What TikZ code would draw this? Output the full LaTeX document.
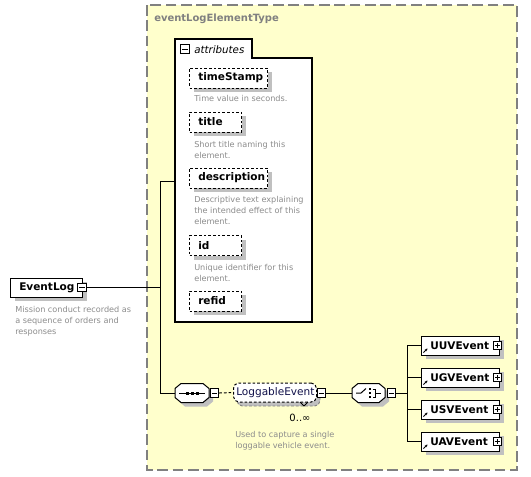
\documentclass[tikz,border=0pt]{standalone}
\usepackage{fontspec}
\setmainfont{DejaVu Sans}
\usetikzlibrary{shadows,arrows.meta}
\definecolor{bgyellow}{HTML}{FFFFCC}
\definecolor{dashgray}{HTML}{808080}
\definecolor{shadowgray}{HTML}{C0C0C0}
\definecolor{desc}{HTML}{8C8C8C}
\definecolor{navy}{HTML}{10104A}
\tikzset{
  shade4/.style={drop shadow={shadow xshift=3pt,shadow yshift=-3pt,fill=shadowgray,opacity=1}},
  attrbox/.style={draw, dash pattern=on 2pt off 1.5pt, fill=white, line width=0.75pt, minimum height=15pt, inner sep=0pt, anchor=west, shade4},
  elbox/.style={draw, fill=white, line width=0.75pt, minimum height=14.25pt, minimum width=58.5pt, inner sep=0pt, anchor=west, shade4},
  lbl/.style={font=\bfseries\fontsize{7.9}{9}\selectfont, inner sep=0pt, anchor=west},
  desctext/.style={font=\fontsize{6.1}{8.25}\selectfont, text=desc, align=left, anchor=north west, inner sep=0pt},
  minusbox/.style={draw, fill=white, line width=0.6pt, minimum size=6.5pt, inner sep=0pt,
    path picture={\draw[line width=0.6pt] ([xshift=1.3pt]path picture bounding box.west) -- ([xshift=-1.3pt]path picture bounding box.east);}},
  plusbox/.style={draw, fill=white, line width=0.6pt, minimum size=6.5pt, inner sep=0pt,
    path picture={\draw[line width=0.6pt] ([xshift=1.3pt]path picture bounding box.west) -- ([xshift=-1.3pt]path picture bounding box.east)
      ([yshift=1.3pt]path picture bounding box.south) -- ([yshift=-1.3pt]path picture bounding box.north);}},
  conn/.style={line width=0.75pt},
  octanchor/.style={minimum height=14.25pt, inner sep=0pt},
  octdraw/.style={draw, fill=white, line width=0.75pt, shade4},
  refarrow/.style={line width=0.6pt, -{Stealth[length=2pt,width=2pt]}}
}
% octagon round a centre (cx,cy) with half width #3 (px)
\newcommand\octagonpath[3]{%
  (#1-#3+6,#2-9.5) -- (#1+#3-6,#2-9.5) -- (#1+#3,#2-4.5) -- (#1+#3,#2+4.5) --
  (#1+#3-6,#2+9.5) -- (#1-#3+6,#2+9.5) -- (#1-#3,#2+4.5) -- (#1-#3,#2-4.5) -- cycle}
\begin{document}
\begin{tikzpicture}[x=0.75pt,y=-0.75pt]
\useasboundingbox (0,0) rectangle (531,476);
% outer complex type box
\draw[fill=bgyellow, draw=dashgray, line width=0.8pt, dash pattern=on 8pt off 3.5pt] (147,5) rectangle (517,470);
\node[font=\bfseries\fontsize{7.5}{9}\selectfont, text=dashgray, anchor=west, inner sep=0pt] (title) at (154,19) {eventLogElementType};

% attributes container
\draw[line width=0.8pt, fill=white] (175,322) -- (175,39) -- (252,39) -- (252,58) -- (312,58) -- (312,322) -- cycle;
\node[minusbox] (attm) at (185,49) {};
\node[font=\itshape\fontsize{7.7}{9}\selectfont, anchor=west, inner sep=0pt] (atttxt) at (194,50) {attributes};
\coordinate (attrL) at (175,181);

% attributes
\node[attrbox, minimum width=58.5pt] (ts) at (189,78) {};
\node[lbl] (tsl) at (198,78) {timeStamp};
\node[desctext] (tsd) at (194,95) {Time value in seconds.};

\node[attrbox, minimum width=39pt] (ti) at (189,122) {};
\node[lbl] (til) at (198,122) {title};
\node[desctext] (tid) at (194,141) {Short title naming this\\element.};

\node[attrbox, minimum width=58.5pt] (de) at (189,178) {};
\node[lbl] (del) at (198,178) {description};
\node[desctext] (ded) at (194,196) {Descriptive text explaining\\the intended effect of this\\element.};

\node[attrbox, minimum width=39pt] (id) at (189,245.5) {};
\node[lbl] (idl) at (198,245.5) {id};
\node[desctext] (idd) at (194,264) {Unique identifier for this\\element.};

\node[attrbox, minimum width=39pt] (rf) at (189,301) {};
\node[lbl] (rfl) at (198,301) {refid};

% root element
\node[elbox, minimum width=54pt] (el) at (10,287.5) {};
\node[lbl] (ell) at (19,287.5) {EventLog};
\node[minusbox] (elm) at (82,287.5) {};
\node[desctext] (eld) at (15,306) {Mission conduct recorded as\\a sequence of orders and\\responses};

% junctions
\coordinate (j1) at (160,287.5);
\coordinate (j2) at (160,181);
\coordinate (j3) at (160,393);
\draw[conn] (elm.east) -- (j1);
\draw[conn] (j2) -- (j3);
\draw[conn] (j2) -- (attrL);

% sequence
\draw[octdraw] \octagonpath{192}{393}{17};
\node[octanchor, minimum width=25.5pt] (seq) at (192,393) {};
\draw[line width=0.75pt] (179,393) -- (205,393);
\foreach \dx in {187,192,197} \fill (\dx-1.5,391.5) rectangle (\dx+1.5,394.5);
\node[minusbox] (seqm) at (214.5,393) {};
\draw[conn] (j3) -- (seq.west);

% LoggableEvent (stacked, optional)
\draw[fill=shadowgray, draw=dashgray, line width=0.7pt, dash pattern=on 2pt off 1.5pt, rounded corners=4pt] (237,387) rectangle (320,406);
\node[draw, fill=white, line width=0.75pt, dash pattern=on 2pt off 1.5pt, rounded corners=4pt, minimum width=62.25pt, minimum height=14.25pt, inner sep=0pt, anchor=west] (le) at (233,392.5) {};
\node[font=\fontsize{7.9}{9}\selectfont, text=navy, anchor=west, inner sep=0pt] (lel) at (236,392.5) {LoggableEvent};
\draw[line width=0.6pt] (300,402) -- (304,406) -- (308,402);
\node[minusbox] (lem) at (321.5,393) {};
\draw[conn, dash pattern=on 2pt off 1.5pt] (seqm.east) -- (le.west);
\node[font=\fontsize{7.5}{9}\selectfont, inner sep=0pt] (occ) at (300,418) {0..∞};
\node[desctext] (led) at (235,431) {Used to capture a single\\loggable vehicle event.};

% choice
\draw[octdraw] \octagonpath{368.5}{393}{16.5};
\node[octanchor, minimum width=24.75pt] (ch) at (368.5,393) {};
\draw[line width=0.75pt] (356,393) -- (361,393) -- (366,388.5);
\foreach \dy in {389,393,397} \fill (368.8,\dy-1.2) rectangle (371.2,\dy+1.2);
\draw[line width=0.75pt] (372.5,389) -- (375,389) -- (375,397) -- (372.5,397) (375,393) -- (381,393);
\node[minusbox] (chm) at (391.5,393) {};
\draw[conn] (lem.east) -- (ch.west);

\coordinate (k0) at (407,393);
\coordinate (k1) at (407,345.5);
\coordinate (k4) at (407,441.5);
\draw[conn] (chm.east) -- (k0);
\draw[conn] (k1) -- (k4);

% choice members
\foreach \n/\y/\t in {u1/345.5/UUVEvent, u2/377.5/UGVEvent, u3/409.5/USVEvent, u4/441.5/UAVEvent}{
  \node[elbox] (\n) at (421,\y) {};
  \node[lbl] (\n l) at (430,\y) {\t};
  \node[plusbox] (\n p) at (497.5,\y) {};
  \draw[refarrow] (423.5,\y+7) -- (427.5,\y+3);
  \coordinate (\n j) at (407,\y);
  \draw[conn] (\n j) -- (\n.west);
}
\end{tikzpicture}
\end{document}
